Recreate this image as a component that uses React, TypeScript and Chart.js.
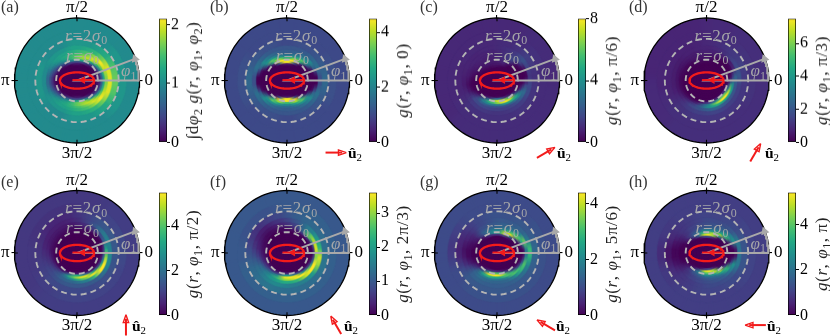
import React, { useEffect, useRef } from "react";
import { Chart, registerables } from "chart.js";
Chart.register(...registerables);

const FONT = "'Liberation Serif'";
const ringEdges = [0, 0.5, 0.65, 0.75, 0.85, 0.95, 1.05, 1.15, 1.25, 1.35, 1.5, 1.7, 2, 2.4, 3];
const sectorCount = 24;
const viridis = ["#440154", "#482475", "#414487", "#355f8d", "#2a788e", "#21908d", "#22a884", "#42be71", "#7ad151", "#bddf26", "#fde725"];

// g(r, phi) x 10: one row per 15 degree sector (phi = 7.5, 22.5, ...), one column per ring
const topA = [
[0,0,0,0,0,1,2,6,12,17,20,16,11,10],[0,0,0,0,0,1,3,8,14,19,20,15,11,10],[0,0,0,0,0,2,6,13,18,21,17,13,11,10],
[0,0,0,0,1,5,12,19,20,18,14,12,10,10],[0,0,0,0,3,11,18,19,17,15,13,11,10,10],[0,0,0,1,4,13,17,17,15,14,12,11,10,10],
[0,0,0,1,4,11,15,15,14,13,12,11,10,10],[0,0,0,0,3,8,12,13,13,12,11,10,10,10],[0,0,0,0,1,5,9,11,12,12,11,10,10,10],
[0,0,0,0,0,2,5,8,10,11,11,10,10,10],[0,0,0,0,0,1,3,5,7,9,10,11,10,10],[0,0,0,0,0,0,1,3,5,7,10,11,10,10]];
const topB = [
[0,0,0,0,0,0,0,0,0,0,11,15,11,10],[0,0,0,0,0,0,0,0,2,12,17,13,11,10],[0,0,0,0,0,0,2,14,22,22,15,12,10,10],
[0,0,0,0,0,5,28,34,24,17,13,11,10,10],[0,0,0,0,12,44,40,26,18,14,12,11,10,10],[0,0,0,3,44,46,30,20,15,13,12,10,10,10],
[0,0,0,3,44,46,30,20,15,13,12,10,10,10],[0,0,0,0,12,44,40,26,18,14,12,11,10,10],[0,0,0,0,0,5,28,34,24,17,13,11,10,10],
[0,0,0,0,0,0,2,14,22,22,15,12,10,10],[0,0,0,0,0,0,0,0,2,12,17,13,11,10],[0,0,0,0,0,0,0,0,0,0,11,15,11,10]];
const gridC = [
[0,0,0,0,0,0,0,0,0,1,12,11,10,9],[0,0,0,0,0,0,0,0,0,2,15,13,11,10],[0,0,0,0,0,0,0,2,8,18,20,15,11,10],
[0,0,0,0,1,6,12,16,18,16,14,12,10,10],[0,0,1,5,8,10,11,12,12,12,11,10,10,9],[0,0,2,5,7,8,9,9,9,9,10,10,10,9],
[0,0,3,5,6,7,7,8,8,8,9,9,9,9],[0,0,2,4,6,7,7,7,8,8,9,9,9,9],[0,0,1,3,5,6,7,7,8,8,8,9,9,9],
[0,0,0,1,3,5,6,7,7,8,8,9,9,9],[0,0,0,0,1,2,4,5,6,7,8,8,9,9],[0,0,0,0,0,0,1,2,4,6,7,8,9,9],
[0,0,0,0,0,0,0,0,1,3,6,8,9,9],[0,0,0,0,0,0,0,1,3,6,9,9,9,9],[0,0,0,0,0,0,4,10,15,17,13,11,10,9],
[0,0,0,0,1,8,24,32,26,18,14,11,10,10],[0,0,0,0,6,36,52,38,22,17,13,11,10,10],[0,0,0,1,26,68,58,30,19,15,12,11,10,10],
[0,0,0,2,30,80,72,32,19,15,12,11,10,10],[0,0,0,0,10,66,80,44,20,15,13,11,10,10],[0,0,0,0,3,36,70,52,28,18,14,12,10,10],
[0,0,0,0,0,6,26,46,38,24,15,12,10,10],[0,0,0,0,0,0,3,12,26,28,18,12,10,10],[0,0,0,0,0,0,0,1,5,14,17,12,10,10]];
const gridD = [
[0,0,0,0,0,0,1,4,14,24,20,13,11,10],[0,0,0,0,0,0,0,0,2,8,17,14,11,10],[0,0,0,0,0,0,0,0,1,5,14,13,11,10],
[0,0,0,0,0,0,0,1,3,7,11,12,10,10],[0,0,0,0,0,1,2,3,5,7,9,10,10,9],[0,0,0,0,1,2,4,5,6,7,8,9,9,9],
[0,0,0,0,1,3,4,5,6,7,8,8,8,8],[0,0,0,0,1,2,4,5,6,6,7,7,8,8],[0,0,0,0,0,1,2,4,5,6,7,7,8,8],
[0,0,0,0,0,0,1,2,4,5,6,7,8,8],[0,0,0,0,0,0,1,2,3,4,6,7,8,8],[0,0,0,0,0,0,0,1,2,4,6,7,8,8],
[0,0,0,0,0,0,0,1,2,4,6,7,8,9],[0,0,0,0,0,0,0,1,3,5,7,8,9,9],[0,0,0,0,0,0,0,2,5,8,10,10,10,9],
[0,0,0,0,0,0,1,4,10,14,13,11,10,10],[0,0,0,0,0,0,2,8,16,18,14,12,10,10],[0,0,0,0,0,1,8,24,28,20,14,12,10,10],
[0,0,0,0,0,2,16,38,40,24,15,12,10,10],[0,0,0,0,0,5,30,60,46,24,15,12,10,10],[0,0,0,0,0,10,55,75,44,22,14,12,10,10],
[0,0,0,0,0,10,58,75,40,20,14,12,10,10],[0,0,0,0,0,5,28,60,42,20,14,12,11,10],[0,0,0,0,0,1,10,32,36,20,14,12,11,10]];
const gridE = [
[0,0,0,0,0,0,0,1,8,32,24,15,12,10],[0,0,0,0,0,0,0,0,2,16,24,15,12,10],[0,0,0,0,0,0,0,0,2,12,22,15,11,10],
[0,0,0,0,0,0,0,1,4,10,16,14,11,10],[0,0,0,0,0,0,1,2,5,8,11,11,10,9],[0,0,0,0,0,1,1,2,4,6,8,9,9,9],
[0,0,0,0,0,1,1,2,3,4,6,7,8,9],[0,0,0,0,0,1,1,2,3,4,5,6,8,9],[0,0,0,0,0,1,1,2,3,4,5,6,8,9],
[0,0,0,0,0,1,1,2,3,4,5,6,8,9],[0,0,0,0,0,0,1,2,3,4,5,7,8,9],[0,0,0,0,0,0,1,2,3,5,6,8,9,9],
[0,0,0,0,0,0,1,3,5,7,8,9,9,9],[0,0,0,0,0,0,1,4,7,9,10,10,9,9],[0,0,0,0,0,0,2,7,10,12,12,11,10,9],
[0,0,0,0,0,1,4,12,16,16,14,12,10,10],[0,0,0,0,0,1,16,30,24,18,15,12,11,10],[0,0,0,0,0,4,36,42,28,18,15,12,11,10],
[0,0,0,0,0,3,30,52,38,22,15,12,11,10],[0,0,0,0,0,1,16,52,46,24,15,12,11,10],[0,0,0,0,0,0,5,34,55,38,16,13,11,10],
[0,0,0,0,0,0,2,14,46,55,20,13,11,10],[0,0,0,0,0,0,1,6,28,55,26,14,11,10],[0,0,0,0,0,0,0,3,16,44,26,14,12,10]];
const gridF = [
[0,0,0,0,0,0,0,0,4,34,24,13,11,10],[0,0,0,0,0,0,0,1,12,32,20,13,11,10],[0,0,0,0,0,0,0,6,28,26,16,12,11,10],
[0,0,0,0,0,0,1,6,12,14,14,12,11,10],[0,0,0,0,0,0,1,3,6,8,10,11,11,10],[0,0,0,0,0,0,1,2,4,6,8,10,10,10],
[0,0,0,0,0,0,1,1,3,4,6,8,10,10],[0,0,0,0,0,0,0,1,2,3,5,7,9,10],[0,0,0,0,0,0,0,1,1,2,3,6,9,10],
[0,0,0,0,0,0,0,1,1,2,3,5,9,10],[0,0,0,0,0,0,1,1,2,3,4,6,9,10],[0,0,0,0,0,1,1,2,3,4,6,8,10,10],
[0,0,0,0,0,1,2,3,5,7,9,10,10,10],[0,0,0,0,0,1,3,5,8,11,12,12,11,10],[0,0,0,0,0,1,4,8,12,14,14,13,11,10],
[0,0,0,0,0,1,5,12,17,18,16,14,11,10],[0,0,0,0,0,2,8,20,24,20,17,14,11,10],[0,0,0,0,0,4,20,34,30,22,16,13,11,10],
[0,0,0,0,0,3,18,36,32,22,15,13,11,10],[0,0,0,0,0,1,10,34,36,24,15,13,11,10],[0,0,0,0,0,0,4,18,36,32,16,13,11,10],
[0,0,0,0,0,0,1,8,28,36,20,13,11,10],[0,0,0,0,0,0,0,3,14,36,30,14,11,10],[0,0,0,0,0,0,0,0,5,28,34,14,11,10]];
const gridG = [
[0,0,0,0,0,0,0,0,2,18,30,15,11,10],[0,0,0,0,0,0,0,6,26,34,18,13,11,10],[0,0,0,0,0,0,10,34,32,20,14,12,11,10],
[0,0,0,0,2,20,42,32,20,15,13,12,10,10],[0,0,0,0,8,42,38,22,16,14,12,11,10,10],[0,0,0,0,6,26,20,16,14,13,12,11,10,10],
[0,0,0,0,6,22,20,16,13,12,11,11,10,10],[0,0,0,0,4,14,18,15,12,11,10,10,10,10],[0,0,0,0,1,4,10,12,11,10,9,9,10,10],
[0,0,0,0,0,1,3,4,5,5,6,7,9,10],[0,0,0,0,0,0,1,2,2,3,4,5,8,10],[0,0,0,0,0,0,0,0,1,1,2,4,7,10],
[0,0,0,0,0,0,0,0,1,1,3,5,8,10],[0,0,0,0,0,0,1,2,3,5,7,9,10,10],[0,0,0,0,0,1,4,8,11,13,13,12,10,10],
[0,0,0,0,1,6,14,24,20,16,14,12,11,10],[0,0,0,0,4,24,42,30,19,15,13,12,11,10],[0,0,0,0,6,34,44,26,17,14,13,12,11,10],
[0,0,0,0,4,28,42,26,17,14,13,12,11,10],[0,0,0,0,1,10,32,32,20,15,13,12,11,10],[0,0,0,0,0,2,12,30,32,20,14,12,11,10],
[0,0,0,0,0,0,2,10,30,28,16,12,11,10],[0,0,0,0,0,0,0,3,14,32,20,13,11,10],[0,0,0,0,0,0,0,0,3,18,28,14,11,10]];
const topH = [
[0,0,0,0,0,0,0,0,0,3,20,14,11,10],[0,0,0,0,0,0,0,3,14,28,22,14,11,10],[0,0,0,0,0,2,12,36,34,22,15,12,11,10],
[0,0,0,0,2,30,46,30,20,16,13,12,10,10],[0,0,0,5,44,50,30,20,16,14,12,11,10,10],[0,0,0,14,54,42,26,18,15,13,12,11,10,10],
[0,0,0,10,48,36,24,16,13,12,11,11,10,10],[0,0,0,2,16,26,18,14,12,11,10,10,10,10],[0,0,0,0,3,12,14,12,10,10,9,9,10,10],
[0,0,0,0,0,2,5,7,7,7,8,8,9,10],[0,0,0,0,0,0,1,1,2,3,4,6,9,10],[0,0,0,0,0,0,0,0,0,1,1,3,7,10]];

const grids = [[...topA, ...[...topA].reverse()], [...topB, ...[...topB].reverse()], gridC, gridD, gridE, gridF, gridG, [...topH, ...[...topH].reverse()]];
const panelLabels = ["(a)", "(b)", "(c)", "(d)", "(e)", "(f)", "(g)", "(h)"];
const barMax = [2.1, 4.5, 8, 7.5, 5.5, 3.6, 4.4, 5.4];
const barTicks = [[0, 1, 2], [0, 2, 4], [0, 4, 8], [0, 2, 4, 6], [0, 2, 4], [0, 1, 2, 3], [0, 2, 4], [0, 2, 4]];
const barTitles = [
  "∫d*φ*_2_ *g*(*r*, *φ*_1_, *φ*_2_)", "*g*(*r*, *φ*_1_, 0)", "*g*(*r*, *φ*_1_, π/6)", "*g*(*r*, *φ*_1_, π/3)",
  "*g*(*r*, *φ*_1_, π/2)", "*g*(*r*, *φ*_1_, 2π/3)", "*g*(*r*, *φ*_1_, 5π/6)", "*g*(*r*, *φ*_1_, π)",
];
const arrowAngles = [null, 0, 30, 60, 90, 120, 150, 180];
const centersX = [77, 287, 497, 706.5];
const barsX = [159, 369, 578, 788];
const rowCenterY = [80.5, 253];
const rowBarTop = [16, 189.5];
const BAR_H = 128.5;
const R = 62.5;
const phi1 = 20.5;
const ellipseAxes = [0.82, 0.39];
const dashRadii = [1, 2];
const circleLabels = ["*r*=2*σ*_0_", "*r*=*σ*_0_"];

const hex = (s: string) => [1, 3, 5].map((i) => parseInt(s.slice(i, i + 2), 16));
function colour(f: number) {
  const t = Math.min(Math.max(f, 0), 1) * (viridis.length - 1);
  const i = Math.min(Math.floor(t), viridis.length - 2);
  const a = hex(viridis[i]), b = hex(viridis[i + 1]);
  const c = a.map((v, k) => Math.round(v + (b[k] - v) * (t - i)));
  return `rgb(${c[0]},${c[1]},${c[2]})`;
}

function drawRuns(ctx: any, text: string, x: number, y: number, size: number, colourStr: string, centred = false, spacing = 0) {
  const parts = text.split(/(\*[^*]+\*|_[^_]+_|\^[^^]+\^)/).filter(Boolean);
  ctx.letterSpacing = `${spacing}px`;
  const items = parts.map((p) => {
    const kind = p[0] === "*" ? "i" : p[0] === "_" ? "s" : p[0] === "^" ? "b" : "n";
    const t = kind === "n" ? p : p.slice(1, -1);
    const font = kind === "i" ? `italic ${size}px ${FONT}` : kind === "s" ? `${size * 0.7}px ${FONT}` : kind === "b" ? `bold ${size}px ${FONT}` : `${size}px ${FONT}`;
    ctx.font = font;
    return { t, font, kind, w: ctx.measureText(t).width };
  });
  const total = items.reduce((s, it) => s + it.w, 0);
  let cx = centred ? x - total / 2 : x;
  ctx.fillStyle = colourStr;
  ctx.textAlign = "left";
  ctx.textBaseline = "alphabetic";
  for (const it of items) {
    ctx.font = it.font;
    ctx.fillText(it.t, cx, it.kind === "s" ? y + size * 0.22 : y);
    cx += it.w;
  }
  ctx.letterSpacing = "0px";
}

const polar = (r: number, deg: number) => ({ x: r * Math.cos((deg * Math.PI) / 180), y: r * Math.sin((deg * Math.PI) / 180) });
const arc = (r: number, from: number, to: number, n: number) => Array.from({ length: n + 1 }, (_, i) => polar(r, from + ((to - from) * i) / n));
const ellipse = (a: number, b: number) => Array.from({ length: 73 }, (_, i) => ({ x: a * Math.cos((i * Math.PI) / 36), y: b * Math.sin((i * Math.PI) / 36) }));

const line = (data: any[], color: string, width: number, extra: any = {}) => ({
  type: "scatter", data, showLine: true, borderColor: color, backgroundColor: color, borderWidth: width,
  pointRadius: 0, weight: 0, clip: false, order: -1, xAxisID: "x", yAxisID: "y", ...extra,
});

function panelConfig(i: number) {
  const col = i % 4, row = i < 4 ? 0 : 1;
  const cx = centersX[col], cy = rowCenterY[row];
  const left = Math.floor(cx - 77), top = row === 0 ? 0 : 168;
  const W = 160, H = 168;
  const pads = { l: cx - R - left, t: cy - R - top };
  const pads2 = { r: W - pads.l - 2 * R, b: H - pads.t - 2 * R };
  const grid = grids[i], vmax = barMax[i] * 10;
  const rings = [];
  for (let k = ringEdges.length - 2; k >= 0; k--) {
    const cols = [];
    for (let j = sectorCount - 1; j >= 0; j--) cols.push(colour(grid[j][k] / vmax));
    rings.push({
      type: "doughnut", data: new Array(sectorCount).fill(1), heat: grid.map((r) => r[k] / 10),
      backgroundColor: cols, borderColor: cols, borderWidth: 0.5, weight: ringEdges[k + 1] - ringEdges[k],
      rotation: 90, cutout: 0, order: 5,
    });
  }
  const gray = "#a9a9a9", red = "#f21b1b";
  const overlays: any[] = [];
  // central red arrow
  overlays.push(line([{ x: -0.22, y: 0.02 }, { x: 0.75, y: 0.02 }], red, 2));
  overlays.push(line([{ x: 0.28, y: 0.02 }], red, 0, { showLine: false, pointRadius: 4.5, pointStyle: "triangle", pointRotation: -90 }));
  overlays.push(line(ellipse(ellipseAxes[0], ellipseAxes[1]), red, 2.3));
  overlays.push(line([polar(3, 0), polar(0, 0), polar(3, phi1)], gray, 2));
  overlays.push(line(arc(2.97, 0, phi1, 12), gray, 2.2, { pointRadius: (c: any) => (c.dataIndex === 12 ? 2.8 : 0), pointStyle: "triangle", pointRotation: -phi1 }));
  for (const r of dashRadii) overlays.push(line(arc(r, 0, 360, 90), "#b4b4b4", 1.9, { borderDash: [6, 4] }));
  const gap = { x: NaN, y: NaN };
  overlays.push(line([polar(3, 0), polar(2.84, 0), gap, polar(3, 90), polar(2.84, 90), gap, polar(3, 180), polar(2.84, 180), gap, polar(3, 270), polar(2.84, 270)], "#000", 1.1));
  overlays.push(line(arc(3, 0, 360, 120), "#000", 1.3));
  const ang = arrowAngles[i];
  if (ang !== null) {
    const c = { x: 2.35, y: -3.46 };
    const d = polar(0.5, ang);
    const tip = { x: c.x + d.x, y: c.y + d.y };
    const at = (back: number, side: number) => {
      const b = polar(back, ang), s = polar(side, ang + 90);
      return { x: tip.x - b.x + s.x, y: tip.y - b.y + s.y };
    };
    overlays.push(line([{ x: c.x - d.x, y: c.y - d.y }, at(0.2, 0)], red, 2));
    overlays.push(line([tip, at(0.38, 0.13), at(0.38, -0.13), tip], red, 1.4, { borderJoinStyle: "miter" }));
  }
  const axisCommon = (label: string, pad: number) => ({
    min: -3, max: 3, grid: { drawOnChartArea: false, drawTicks: true, tickLength: 3, color: "#000", lineWidth: 1.1 },
    border: { display: false },
    ticks: { autoSkip: false, maxRotation: 0, padding: pad, color: "#000", font: { family: FONT, size: 17 }, callback: () => label },
    afterBuildTicks: (s: any) => { s.ticks = [{ value: 0 }]; },
  });
  let blurred = false;
  const blurPlugin = {
    id: "smooth",
    beforeDatasetsDraw() { blurred = false; },
    beforeDatasetDraw(chart: any, args: any) {
      if (blurred || args.meta.type === "doughnut") return;
      blurred = true;
      const c = document.createElement("canvas");
      c.width = chart.canvas.width; c.height = chart.canvas.height;
      c.getContext("2d")!.drawImage(chart.canvas, 0, 0);
      const ctx = chart.ctx;
      const px = chart.scales.x.getPixelForValue(0), py = chart.scales.y.getPixelForValue(0);
      ctx.save();
      ctx.beginPath(); ctx.arc(px, py, R - 0.5, 0, Math.PI * 2); ctx.clip();
      ctx.filter = "blur(0.45px)";
      const angles = [-7.5, -5, -2.5, 0, 2.5, 5, 7.5];
      angles.forEach((deg, k) => {
        ctx.save();
        ctx.globalAlpha = 1 / (k + 1);
        ctx.translate(px, py);
        ctx.rotate((deg * Math.PI) / 180);
        ctx.translate(-px, -py);
        ctx.drawImage(c, 0, 0);
        ctx.restore();
      });
      ctx.restore();
    },
    afterDatasetsDraw(chart: any) {
      const ctx = chart.ctx;
      const px = chart.scales.x.getPixelForValue(0), py = chart.scales.y.getPixelForValue(0);
      const g = "rgba(170,170,170,0.95)";
      drawRuns(ctx, circleLabels[0], px - 12, py - 40, 17, g, false, 0.8);
      drawRuns(ctx, circleLabels[1], px - 11, py - 20, 17, g, false, 0.8);
      drawRuns(ctx, "*φ*_1_", px + 44, py - 4.5, 17, g);
      const labelBase = row === 0 ? 12 : 187 - 168;
      drawRuns(ctx, panelLabels[i], col === 0 ? 1 : 210 * col - left + (col === 3 ? -1 : 0), labelBase, 16, "#333");
      if (ang !== null) {
        const ux = [0, 348, 557, 765][col], ux2 = [132, 344, 556, 767][col];
        drawRuns(ctx, "^û^_2_", (row === 0 ? ux : ux2) - left, row === 0 ? 157.5 : 163, 15.5, "#000");
      }
    },
  };
  return {
    type: "scatter",
    data: { datasets: [...rings, ...overlays] },
    options: {
      responsive: false, animation: false, events: [],
      layout: { padding: 0 },
      plugins: { legend: { display: false }, tooltip: { enabled: false }, title: { display: false } },
      scales: {
        x: { ...axisCommon("3π/2", -3), position: "bottom", axis: "x", afterFit: (s: any) => { s.height = pads2.b; } },
        xTop: { ...axisCommon("π/2", -3), position: "top", axis: "x", afterFit: (s: any) => { s.height = pads.t; } },
        y: { ...axisCommon("π", 2), position: "left", axis: "y", afterFit: (s: any) => { s.width = pads.l; } },
        yRight: { ...axisCommon("0", 2), position: "right", axis: "y", afterFit: (s: any) => { s.width = pads2.r; } },
      },
    },
    plugins: [blurPlugin],
  } as any;
}

function barConfig(i: number) {
  const vmax = barMax[i];
  const W = 44;
  return {
    type: "bar",
    data: {
      labels: [""],
      datasets: [{
        data: [vmax], borderColor: "#000", borderWidth: 1, borderSkipped: false,
        categoryPercentage: 1, barPercentage: 1,
        backgroundColor: (c: any) => {
          const a = c.chart.chartArea;
          if (!a) return viridis[0];
          const g = c.chart.ctx.createLinearGradient(0, a.bottom, 0, a.top);
          viridis.forEach((v, k) => g.addColorStop(k / (viridis.length - 1), v));
          return g;
        },
      }],
    },
    options: {
      responsive: false, animation: false, events: [],
      layout: { padding: { top: 8, bottom: 8, left: 0, right: 0 } },
      plugins: { legend: { display: false }, tooltip: { enabled: false } },
      scales: {
        x: { display: false },
        y: {
          position: "right", min: 0, max: vmax,
          grid: { drawOnChartArea: false, tickLength: 3, color: "#000" }, border: { display: false },
          ticks: { color: "#000", padding: 1, font: { family: FONT, size: 16 }, callback: (v: any) => `${v}` },
          afterBuildTicks: (s: any) => { s.ticks = barTicks[i].map((value) => ({ value })); },
          afterFit: (s: any) => { s.width = W - 8; },
        },
      },
    },
    plugins: [{
      id: "barTitle",
      afterDraw(chart: any) {
        const ctx = chart.ctx, a = chart.chartArea;
        ctx.save();
        ctx.translate(39, (a.top + a.bottom) / 2);
        ctx.rotate(-Math.PI / 2);
        drawRuns(ctx, barTitles[i], 0, 0, 17, "#222", true, 0.6);
        ctx.restore();
      },
    }],
  } as any;
}

export default function App() {
  const panelRefs = useRef<(HTMLCanvasElement | null)[]>([]);
  const barRefs = useRef<(HTMLCanvasElement | null)[]>([]);
  useEffect(() => {
    const charts: Chart[] = [];
    panelLabels.forEach((_, i) => {
      charts.push(new Chart(panelRefs.current[i]!, panelConfig(i)));
      charts.push(new Chart(barRefs.current[i]!, barConfig(i)));
    });
    return () => charts.forEach((c) => c.destroy());
  }, []);
  return (
    <div style={{ position: "absolute", left: 0, top: 0, width: 830, height: 336, overflow: "hidden", background: "#fff" }}>
      {panelLabels.map((_, i) => {
        const col = i % 4, row = i < 4 ? 0 : 1;
        return (
          <React.Fragment key={i}>
            <canvas ref={(el) => { panelRefs.current[i] = el; }} width={160} height={168}
              style={{ position: "absolute", left: Math.floor(centersX[col] - 77), top: row === 0 ? 0 : 168, width: 160, height: 168 }} />
            <canvas ref={(el) => { barRefs.current[i] = el; }} width={44} height={BAR_H + 16}
              style={{ position: "absolute", left: barsX[col], top: rowBarTop[row] - 8, width: 44, height: BAR_H + 16 }} />
          </React.Fragment>
        );
      })}
    </div>
  );
}
